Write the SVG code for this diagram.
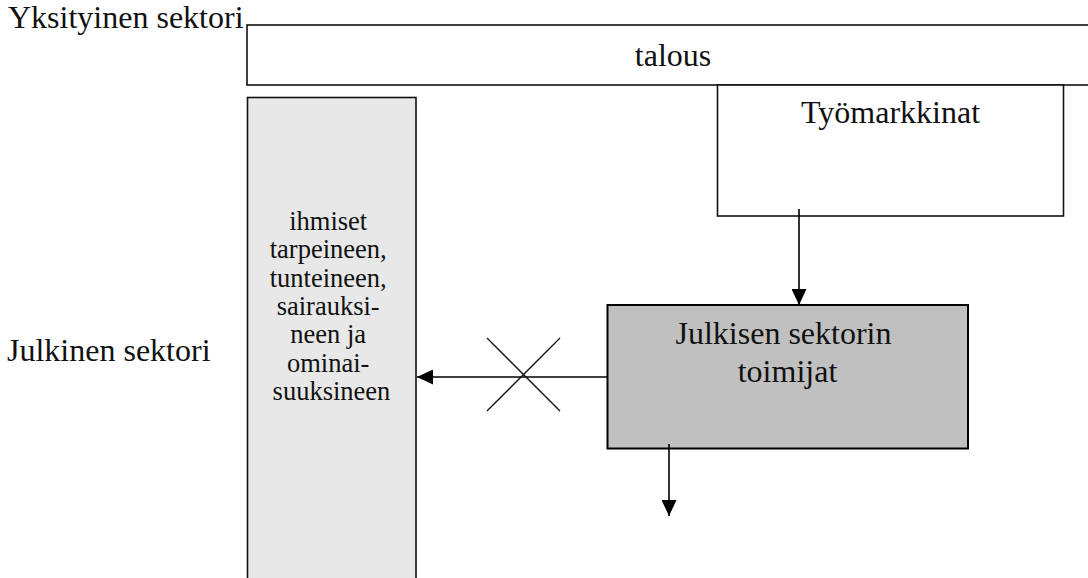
<svg xmlns="http://www.w3.org/2000/svg" width="1088" height="578" viewBox="0 0 1088 578">
<style>
text{font-family:"Liberation Serif","Times New Roman",serif;fill:#111;}
.big{font-size:32px;}
.small{font-size:26.5px;}
.box{stroke:#111;stroke-width:1.6;}
.ln{stroke:#000;stroke-width:1.6;fill:none;}
.x{stroke:#111;stroke-width:1.3;}
</style>
<defs>
<marker id="ah" markerWidth="16" markerHeight="15" refX="16" refY="7.5" orient="auto" markerUnits="userSpaceOnUse">
<path d="M0,0 L16,7.5 L0,15 Z" fill="#000"/>
</marker>
</defs>
<text class="big" x="8" y="28">Yksityinen sektori</text>
<text class="big" x="7" y="361">Julkinen sektori</text>
<g id="talous">
<rect class="box" x="247" y="25" width="860" height="60" fill="#fff"/>
<text class="big" x="673" y="66" text-anchor="middle">talous</text>
</g>
<g id="ihmiset">
<rect class="box" x="247.5" y="97.5" width="168.5" height="500" fill="#e8e8e8"/>
<text class="small" text-anchor="middle">
<tspan x="331.5" y="230">ihmiset</tspan>
<tspan x="331.5" y="258.3">tarpeineen,</tspan>
<tspan x="331.5" y="286.7">tunteineen,</tspan>
<tspan x="331.5" y="315">sairauksi-</tspan>
<tspan x="331.5" y="343.3">neen ja</tspan>
<tspan x="331.5" y="371.7">ominai-</tspan>
<tspan x="331.5" y="400">suuksineen</tspan>
</text>
</g>
<g id="tyomarkkinat">
<rect class="box" x="717.5" y="85" width="346" height="131" fill="#fff"/>
<text class="big" x="890.5" y="123" text-anchor="middle">Työmarkkinat</text>
</g>
<g id="julkisen">
<rect x="607.5" y="305" width="360.5" height="143.5" fill="#c0c0c0" stroke="#000" stroke-width="2"/>
<text class="big" text-anchor="middle">
<tspan x="787.5" y="344">Julkisen sektorin</tspan>
<tspan x="787.5" y="382">toimijat</tspan>
</text>
</g>
<g id="connectors">
<line class="ln" x1="799" y1="209" x2="799" y2="305" marker-end="url(#ah)"/>
<line class="ln" x1="607" y1="377" x2="417" y2="377" marker-end="url(#ah)"/>
<line class="ln" x1="669" y1="444" x2="669" y2="516" marker-end="url(#ah)"/>
<line class="x" x1="487" y1="338" x2="560" y2="411"/>
<line class="x" x1="560" y1="338" x2="487" y2="411"/>
</g>
</svg>
